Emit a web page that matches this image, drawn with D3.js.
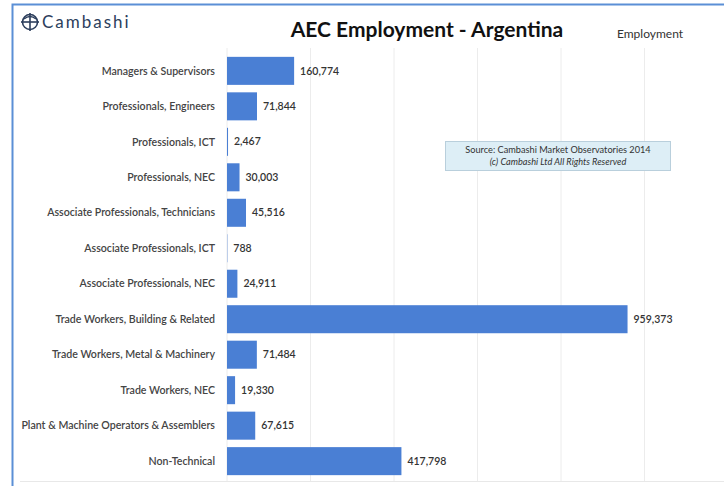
<!DOCTYPE html>
<html><head><meta charset="utf-8">
<script src="https://cdn.jsdelivr.net/npm/d3@7"></script>
<style>body{margin:0;background:#fff}svg{display:block;font-family:Lato,"Open Sans",sans-serif}</style>
</head><body>
<script>
const categories = ["Managers & Supervisors","Professionals, Engineers","Professionals, ICT","Professionals, NEC","Associate Professionals, Technicians","Associate Professionals, ICT","Associate Professionals, NEC","Trade Workers, Building & Related","Trade Workers, Metal & Machinery","Trade Workers, NEC","Plant & Machine Operators & Assemblers","Non-Technical"];
const values = [160774,71844,2467,30003,45516,788,24911,959373,71484,19330,67615,417798];
const xTicks = [0,200000,400000,600000,800000,1000000,1200000];
const title = "AEC Employment - Argentina";
const seriesName = "Employment";
const sourceLines = ["Source: Cambashi Market Observatories 2014","(c) Cambashi Ltd All Rights Reserved"];

const W=724,H=486;
const svg=d3.select("body").append("svg").attr("width",W).attr("height",H);
// frame
svg.append("rect").attr("x",12.5).attr("y",4.5).attr("width",W+10).attr("height",H+10).attr("fill","#fff").attr("stroke","#5b8fd6").attr("stroke-width",2);

const x=d3.scaleLinear().domain([0,1200000]).range([227,728]);
const y=d3.scaleBand().domain(categories).range([53.3,478.7]).paddingInner(0.21).paddingOuter(0.1);

// gridlines
svg.append("g").selectAll("line").data(xTicks.slice(1)).join("line")
 .attr("x1",d=>x(d)).attr("x2",d=>x(d)).attr("y1",48).attr("y2",481)
 .attr("stroke","#ececec").attr("stroke-width",1);
svg.append("line").attr("x1",20).attr("x2",W).attr("y1",481.5).attr("y2",481.5).attr("stroke","#e8e8e8");
svg.append("line").attr("x1",x(0)).attr("x2",x(0)).attr("y1",48).attr("y2",481).attr("stroke","#ececec");

// bars
svg.append("g").selectAll("rect").data(values).join("rect")
 .attr("x",x(0)).attr("y",(d,i)=>y(categories[i])).attr("width",d=>x(d)-x(0)).attr("height",y.bandwidth())
 .attr("fill","#4a7fd4");
// value labels
svg.append("g").selectAll("text").data(values).join("text")
 .attr("x",d=>x(d)+6).attr("y",(d,i)=>y(categories[i])+y.bandwidth()/2).attr("dy","0.35em")
 .attr("font-size",10.5).attr("font-weight",600).attr("fill","#333").text(d=>d3.format(",")(d));
// category labels
svg.append("g").selectAll("text").data(categories).join("text")
 .attr("x",215).attr("y",d=>y(d)+y.bandwidth()/2).attr("dy","0.35em").attr("text-anchor","end")
 .attr("font-size",10.6).attr("font-weight",600).attr("fill","#444").text(d=>d);

// title
svg.append("text").attr("x",427).attr("y",37).attr("text-anchor","middle").attr("font-size",21).attr("font-weight",700).attr("fill","#111").text(title);
svg.append("text").attr("x",650).attr("y",38).attr("text-anchor","middle").attr("font-size",12).attr("fill","#333").text(seriesName);

// logo
const lg=svg.append("g").attr("transform","translate(30,22)");
lg.append("circle").attr("r",7.5).attr("fill","none").attr("stroke","#2c3e5c").attr("stroke-width",1.6);
lg.append("line").attr("x1",-9).attr("x2",9).attr("y1",0).attr("y2",0).attr("stroke","#2c3e5c").attr("stroke-width",1.6);
lg.append("line").attr("x1",0).attr("x2",0).attr("y1",-9).attr("y2",9).attr("stroke","#2c3e5c").attr("stroke-width",1.6);
lg.append("path").attr("d","M-6,-3 Q0,-8 6,-3").attr("fill","none").attr("stroke","#2c3e5c").attr("stroke-width",1.4);
svg.append("text").attr("x",42).attr("y",28).attr("font-size",17).attr("font-weight",400).attr("letter-spacing",2).attr("fill","#2c3e5c").text("Cambashi");

// source box
svg.append("rect").attr("x",445.5).attr("y",141.5).attr("width",225).attr("height",29).attr("fill","#ddeef6").attr("stroke","#b9cfdc");
svg.append("text").attr("x",558).attr("y",153).attr("text-anchor","middle").attr("font-size",9.2).attr("fill","#333").text(sourceLines[0]);
svg.append("text").attr("x",558).attr("y",165).attr("text-anchor","middle").attr("font-size",9.2).attr("font-style","italic").attr("fill","#333").text(sourceLines[1]);
</script>
</body></html>
